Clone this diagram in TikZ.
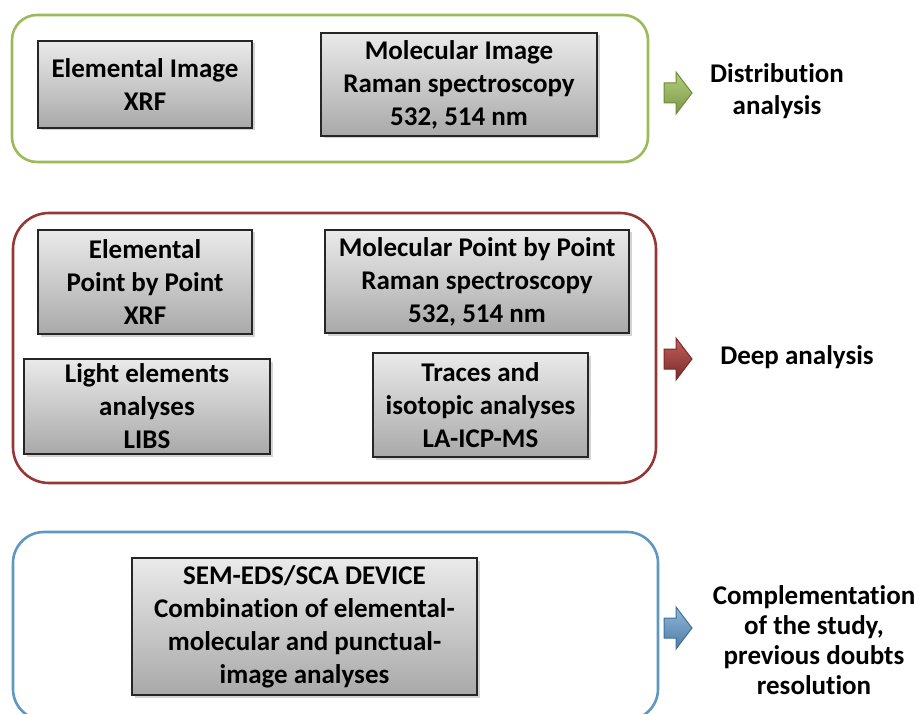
\documentclass[tikz,border=0pt]{standalone}
\usepackage{fontspec}
\setmainfont{Carlito}[Ligatures=NoCommon]
\usetikzlibrary{shadows}
\definecolor{grn}{HTML}{9BBB59}
\definecolor{grnD}{HTML}{6E8B36}
\definecolor{grnL}{HTML}{B3CF7A}
\definecolor{redc}{HTML}{953735}
\definecolor{redD}{HTML}{7A2A28}
\definecolor{redL}{HTML}{C0605C}
\definecolor{blu}{HTML}{5E97C2}
\definecolor{bluD}{HTML}{3F6F9A}
\definecolor{bluL}{HTML}{8DB6DA}
\definecolor{boxT}{HTML}{EAEAEA}
\definecolor{boxB}{HTML}{A9A9A9}
\begin{document}
\begin{tikzpicture}[x=1pt,y=-1pt,
  tbox/.style={draw=black!85, line width=1.2pt, top color=boxT, bottom color=boxB,
    drop shadow={shadow xshift=2.5pt,shadow yshift=-2.5pt,opacity=0.35},
    align=center, font=\fontsize{27}{33}\selectfont\bfseries, inner sep=0pt},
  cont/.style={line width=2.6pt, inner sep=0pt},
  lbl/.style={align=center, font=\fontsize{27}{32}\selectfont\bfseries, inner sep=0pt},
  blockarr/.pic={\path[pic actions] (-14,-10) -- (-2,-10) -- (-2,-21) -- (14,0) -- (-2,21) -- (-2,10) -- (-14,10) -- cycle;}
]
\useasboundingbox (0,0) rectangle (921,714);
% containers
\node (g) [cont, draw=grn, rounded corners=25pt, minimum width=636pt, minimum height=147pt] at (330,88.5) {};
\node (r) [cont, draw=redc, rounded corners=36pt, minimum width=643pt, minimum height=270pt] at (334.5,348) {};
\node (b) [cont, draw=blu, rounded corners=31pt, minimum width=645pt, minimum height=188pt] at (335.5,626) {};
% boxes
\node (A) [tbox, minimum width=214pt, minimum height=87pt] at (145,84.5) {Elemental Image\\XRF};
\node (B) [tbox, minimum width=276pt, minimum height=103pt] at (459,84.5) {Molecular Image\\Raman spectroscopy\\532, 514 nm};
\node (C) [tbox, minimum width=214pt, minimum height=104pt] at (145,282) {Elemental\\Point by Point\\XRF};
\node (D) [tbox, minimum width=304pt, minimum height=103pt] at (477,281.5) {Molecular Point by Point\\Raman spectroscopy\\532, 514 nm};
\node (E) [tbox, minimum width=246pt, minimum height=95pt] at (147,406.5) {Light elements\\analyses\\LIBS};
\node (F) [tbox, minimum width=215pt, minimum height=104pt] at (480.5,405) {Traces and\\isotopic analyses\\LA-ICP-MS};
\node (G) [tbox, minimum width=345pt, minimum height=137pt] at (304.5,626.5) {SEM-EDS/SCA DEVICE\\Combination of elemental-\\molecular and punctual-\\image analyses};
% arrows
\pic[draw=grnD, line width=1pt, top color=grnL, bottom color=grnD!90] at (678,93) {blockarr};
\pic[draw=redD, line width=1pt, top color=redL, bottom color=redD] at (678,359) {blockarr};
\pic[draw=bluD, line width=1pt, top color=bluL, bottom color=bluD!90] at (678,628) {blockarr};
% labels
\node (t1) [lbl] at (777,91) {Distribution\\analysis};
\node (t2) [lbl] at (797,357) {Deep analysis};
\node (t3) [lbl, font=\fontsize{27}{30}\selectfont\bfseries] at (814,640) {Complementation\\of the study,\\previous doubts\\resolution};
\end{tikzpicture}
\end{document}
